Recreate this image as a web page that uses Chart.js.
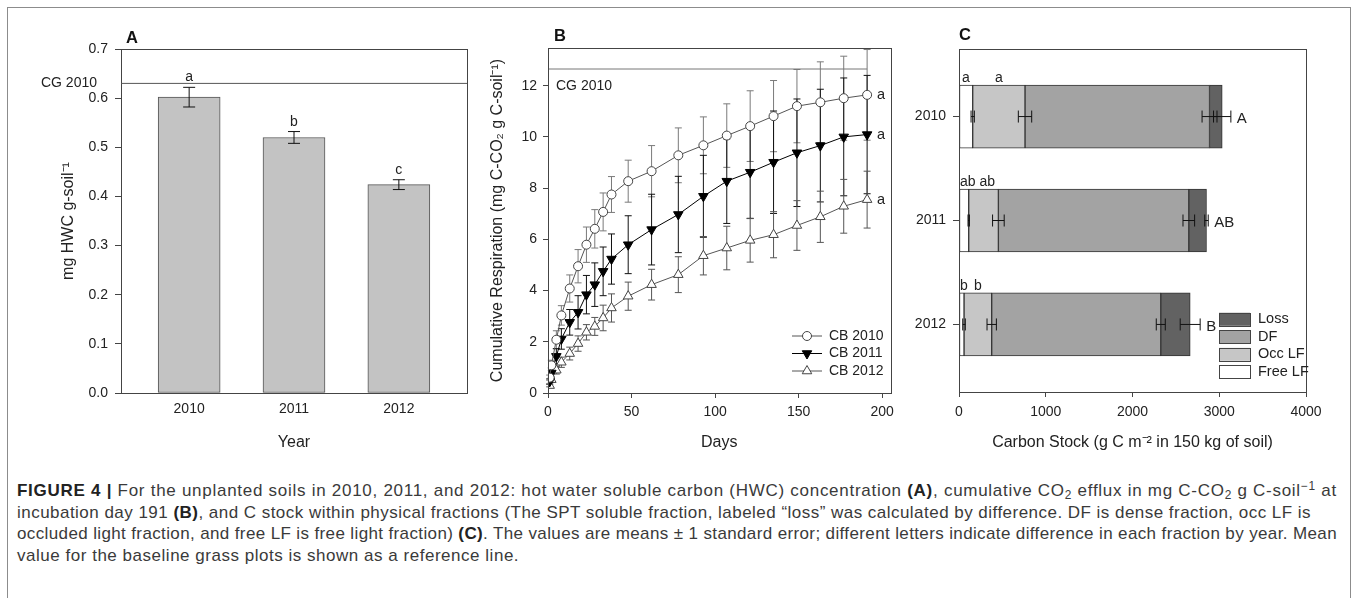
<!DOCTYPE html>
<html>
<head>
<meta charset="utf-8">
<script src="https://cdn.jsdelivr.net/npm/chart.js@4.4.0/dist/chart.umd.min.js"></script>
<style>
html, body { margin: 0; padding: 0; background: #fff; }
body { width: 1357px; height: 598px; position: relative; overflow: hidden; font-family: "Liberation Sans", Arial, sans-serif; }
#frame { position: absolute; left: 7px; top: 7px; width: 1342px; height: 610px; border: 1px solid #8c8c8c; }
canvas { position: absolute; top: 0; }
#caption { position: absolute; left: 17px; top: 480px; font-size: 17px; line-height: 21.6px; color: #3a3a3a; white-space: nowrap; }
#caption div { display: block; }
#caption span { display: inline-block; }
#caption b { color: #222; }
#caption sub { font-size: 0.7em; vertical-align: -0.25em; line-height: 0; }
#caption sup { font-size: 0.7em; vertical-align: 0.5em; line-height: 0; }
</style>
</head>
<body>
<div id="frame"></div>
<canvas id="chartA" width="480" height="470" style="left:0px"></canvas>
<canvas id="chartB" width="420" height="470" style="left:480px"></canvas>
<canvas id="chartC" width="457" height="470" style="left:900px"></canvas>
<div id="caption">
  <div><span data-w="1320"><b>FIGURE 4 |</b> For the unplanted soils in 2010, 2011, and 2012: hot water soluble carbon (HWC) concentration <b>(A)</b>, cumulative CO<sub>2</sub> efflux in mg C-CO<sub>2</sub> g C-soil<sup>−1</sup> at</span></div>
  <div><span data-w="1294">incubation day 191 <b>(B)</b>, and C stock within physical fractions (The SPT soluble fraction, labeled “loss” was calculated by difference. DF is dense fraction, occ LF is</span></div>
  <div><span data-w="1320">occluded light fraction, and free LF is free light fraction) <b>(C)</b>. The values are means ± 1 standard error; different letters indicate difference in each fraction by year. Mean</span></div>
  <div><span>value for the baseline grass plots is shown as a reference line.</span></div>
</div>
<script>
// ---- panel A: hot water soluble carbon
const years = [2010, 2011, 2012];
const hwcMean = [0.602, 0.520, 0.424];
const hwcSE = [0.020, 0.012, 0.010];
const hwcLetters = ['a', 'b', 'c'];
const hwcCG = 0.63;
const hwcTicks = [0, 0.1, 0.2, 0.3, 0.4, 0.5, 0.6, 0.7];

// ---- panel B: cumulative respiration
const days = [1, 2, 5, 8, 13, 18, 23, 28, 33, 38, 48, 62, 78, 93, 107, 121, 135, 149, 163, 177, 191];
const cb2010 = [0.60, 1.08, 2.08, 3.03, 4.08, 4.95, 5.79, 6.41, 7.07, 7.75, 8.27, 8.66, 9.28, 9.67, 10.05, 10.42, 10.81, 11.20, 11.35, 11.51, 11.64];
const cb2010SE = [0.10, 0.20, 0.35, 0.38, 0.53, 0.65, 0.69, 0.75, 0.74, 0.70, 0.82, 1.00, 1.07, 1.11, 1.24, 1.38, 1.39, 1.43, 1.58, 1.64, 1.77];
const cb2011 = [0.45, 0.78, 1.43, 2.11, 2.76, 3.15, 3.84, 4.23, 4.75, 5.23, 5.79, 6.38, 6.97, 7.68, 8.27, 8.62, 9.01, 9.38, 9.66, 10.00, 10.09];
const cb2011SE = [0.10, 0.20, 0.30, 0.40, 0.50, 0.65, 0.75, 0.85, 0.95, 0.98, 1.13, 1.38, 1.49, 1.60, 1.65, 1.80, 2.00, 2.10, 2.20, 2.30, 2.31];
const cb2012 = [0.29, 0.52, 0.89, 1.20, 1.54, 1.93, 2.37, 2.60, 2.93, 3.32, 3.78, 4.23, 4.62, 5.36, 5.66, 5.96, 6.18, 6.54, 6.88, 7.29, 7.55];
const cb2012SE = [0.05, 0.10, 0.15, 0.20, 0.25, 0.30, 0.30, 0.35, 0.50, 0.55, 0.55, 0.60, 0.70, 0.75, 0.85, 0.85, 0.90, 0.97, 1.00, 1.05, 1.11];
const respLabels = ['CB 2010', 'CB 2011', 'CB 2012'];
const respLetters = ['a', 'a', 'a'];
const respCG = 12.65;
const dayTicks = [0, 50, 100, 150, 200];
const respTicks = [0, 2, 4, 6, 8, 10, 12];

// ---- panel C: carbon stock by fraction
const fractionNames = ['Free LF', 'Occ LF', 'DF', 'Loss'];
const freeLF = [158, 112, 58];
const freeLFSE = [19, 8, 15];
const occLF = [603, 342, 319];
const occLFSE = [77, 67, 54];
const denseF = [2127, 2195, 1949];
const denseFSE = [86, 67, 52];
const lossF = [146, 204, 339];
const lossSE = [100, 20, 115];
const fracLetters = [['a', 'a'], ['ab', 'ab'], ['b', 'b']];
const totalLetters = ['A', 'AB', 'B'];
const stockTicks = [0, 1000, 2000, 3000, 4000];

const FONT = '"Liberation Sans", Arial, sans-serif';
Chart.defaults.font.family = FONT;
Chart.defaults.font.size = 14;
Chart.defaults.color = '#222';

function font(size, bold) { return (bold ? 'bold ' : '') + size + 'px ' + FONT; }

function text(ctx, str, x, y, opts) {
  opts = opts || {};
  ctx.save();
  ctx.font = opts.font || font(14);
  ctx.fillStyle = opts.color || '#222';
  ctx.textAlign = opts.align || 'center';
  ctx.textBaseline = opts.baseline || 'middle';
  ctx.translate(x, y);
  if (opts.rotate) ctx.rotate(opts.rotate);
  ctx.fillText(str, 0, 0);
  ctx.restore();
}

function line(ctx, x1, y1, x2, y2, color) {
  ctx.beginPath();
  ctx.strokeStyle = color || '#111';
  ctx.lineWidth = 1;
  ctx.moveTo(x1, y1);
  ctx.lineTo(x2, y2);
  ctx.stroke();
}

function frame(chart) {
  const a = chart.chartArea;
  const ctx = chart.ctx;
  ctx.save();
  ctx.strokeStyle = '#444';
  ctx.lineWidth = 1;
  ctx.strokeRect(Math.round(a.left) + 0.5, Math.round(a.top) + 0.5, Math.round(a.right - a.left), Math.round(a.bottom - a.top));
  ctx.restore();
}

function fixTicks(list) { return s => { s.ticks = list.map(v => ({ value: v })); }; }

// ---------------- A
new Chart(document.getElementById('chartA'), {
  type: 'bar',
  data: {
    datasets: [{
      data: years.map((y, i) => ({ x: y, y: hwcMean[i] })),
      backgroundColor: '#c3c3c3',
      borderColor: '#555',
      borderWidth: 1,
      borderSkipped: false,
      barThickness: 62
    }]
  },
  options: {
    animation: false,
    responsive: false,
    layout: { padding: { top: 49, right: 13, left: 0, bottom: 0 } },
    plugins: { legend: { display: false }, tooltip: { enabled: false } },
    scales: {
      x: {
        type: 'linear', offset: false, min: 2009.35, max: 2012.65,
        afterBuildTicks: fixTicks(years),
        afterFit: s => { s.height = 77; },
        grid: { display: false, offset: false }, border: { display: false },
        ticks: { callback: v => String(v), padding: 0, maxRotation: 0, autoSkip: false }
      },
      y: {
        min: 0, max: 0.7,
        afterBuildTicks: fixTicks(hwcTicks),
        afterFit: s => { s.width = 121; },
        grid: { drawOnChartArea: false, tickLength: 6, color: '#444' }, border: { display: false },
        ticks: { callback: v => v.toFixed(1), padding: 7 }
      }
    }
  },
  plugins: [{
    id: 'panelA',
    afterDatasetsDraw(chart) {
      const ctx = chart.ctx, a = chart.chartArea;
      const xs = chart.scales.x, ys = chart.scales.y;
      frame(chart);
      const cy = ys.getPixelForValue(hwcCG);
      line(ctx, a.left, cy, a.right, cy, '#555');
      text(ctx, 'CG 2010', a.left - 24, cy, { align: 'right' });
      years.forEach((yr, i) => {
        const x = xs.getPixelForValue(yr);
        const top = ys.getPixelForValue(hwcMean[i] + hwcSE[i]);
        const bot = ys.getPixelForValue(hwcMean[i] - hwcSE[i]);
        line(ctx, x, top, x, bot, '#111');
        line(ctx, x - 6, top, x + 6, top, '#111');
        line(ctx, x - 6, bot, x + 6, bot, '#111');
        text(ctx, hwcLetters[i], x, top - 6, { baseline: 'alphabetic' });
      });
      text(ctx, 'A', a.left + 5, 43, { font: font(16.5, true), align: 'left', baseline: 'alphabetic', color: '#111' });
      text(ctx, 'Year', (a.left + a.right) / 2, 443, { font: font(16) });
      text(ctx, 'mg HWC g-soil⁻¹', 69, (a.top + a.bottom) / 2, { font: font(16), rotate: -Math.PI / 2 });
    }
  }]
});

// ---------------- B
const respSeries = [
  { data: cb2010, se: cb2010SE, style: 'circle', rot: 0, fill: '#fff', line: '#555', bar: '#7a7a7a', r: 4.5 },
  { data: cb2011, se: cb2011SE, style: 'triangle', rot: 180, fill: '#000', line: '#000', bar: '#111', r: 5.5 },
  { data: cb2012, se: cb2012SE, style: 'triangle', rot: 0, fill: '#fff', line: '#555', bar: '#555', r: 5.5 }
];

function marker(ctx, s, x, y) {
  ctx.save();
  ctx.beginPath();
  if (s.style === 'circle') {
    ctx.arc(x, y, s.r, 0, Math.PI * 2);
  } else {
    const d = s.rot ? -1 : 1, r = s.r;
    ctx.moveTo(x, y - d * r);
    ctx.lineTo(x + r * 0.866, y + d * r / 2);
    ctx.lineTo(x - r * 0.866, y + d * r / 2);
    ctx.closePath();
  }
  ctx.fillStyle = s.fill;
  ctx.fill();
  ctx.strokeStyle = s.rot ? '#000' : '#444';
  ctx.lineWidth = 1;
  ctx.stroke();
  ctx.restore();
}

new Chart(document.getElementById('chartB'), {
  type: 'line',
  data: {
    datasets: respSeries.map((s, k) => ({
      label: respLabels[k],
      data: days.map((d, i) => ({ x: d, y: s.data[i] })),
      borderColor: s.line,
      borderWidth: 1,
      pointStyle: s.style,
      pointRotation: s.rot,
      pointRadius: s.r,
      pointBackgroundColor: s.fill,
      pointBorderColor: s.rot ? '#000' : '#444',
      pointBorderWidth: 1,
      tension: 0
    })).concat([{
      label: 'CG 2010',
      data: [{ x: 0, y: respCG }, { x: days[days.length - 1], y: respCG }],
      borderColor: '#777',
      borderWidth: 1,
      pointRadius: 0
    }])
  },
  options: {
    animation: false,
    responsive: false,
    layout: { padding: { top: 48, right: 6, left: 0, bottom: 0 } },
    plugins: { legend: { display: false }, tooltip: { enabled: false } },
    scales: {
      x: {
        type: 'linear', min: 0, max: 205,
        afterBuildTicks: fixTicks(dayTicks),
        afterFit: s => { s.height = 77; },
        grid: { drawOnChartArea: false, tickLength: 5, color: '#444' }, border: { display: false },
        ticks: { padding: 6, maxRotation: 0 }
      },
      y: {
        min: 0, max: 13.47,
        afterBuildTicks: fixTicks(respTicks),
        afterFit: s => { s.width = 68; },
        grid: { drawOnChartArea: false, tickLength: 5, color: '#444' }, border: { display: false },
        ticks: { padding: 6 }
      }
    }
  },
  plugins: [{
    id: 'panelB',
    beforeDatasetsDraw(chart) {
      const ctx = chart.ctx, xs = chart.scales.x, ys = chart.scales.y;
      respSeries.forEach(s => {
        days.forEach((d, i) => {
          const x = xs.getPixelForValue(d);
          const top = ys.getPixelForValue(s.data[i] + s.se[i]);
          const bot = ys.getPixelForValue(s.data[i] - s.se[i]);
          line(ctx, x, top, x, bot, s.bar);
          line(ctx, x - 3.5, top, x + 3.5, top, s.bar);
          line(ctx, x - 3.5, bot, x + 3.5, bot, s.bar);
        });
      });
    },
    afterDatasetsDraw(chart) {
      const ctx = chart.ctx, a = chart.chartArea, xs = chart.scales.x, ys = chart.scales.y;
      frame(chart);
      text(ctx, 'CG 2010', a.left + 8, ys.getPixelForValue(respCG) + 17, { align: 'left' });
      const lastX = xs.getPixelForValue(days[days.length - 1]);
      respSeries.forEach((s, k) => {
        text(ctx, respLetters[k], lastX + 10, ys.getPixelForValue(s.data[s.data.length - 1]), { align: 'left', font: font(14.5) });
      });
      // legend
      respSeries.forEach((s, k) => {
        const y = 336 + k * 17.5;
        line(ctx, 312, y, 342, y, s.line);
        marker(ctx, s, 327, y);
        text(ctx, respLabels[k], 349, y, { align: 'left' });
      });
      text(ctx, 'B', 74, 41, { font: font(16.5, true), align: 'left', baseline: 'alphabetic', color: '#111' });
      text(ctx, 'Days', (a.left + a.right) / 2, 443, { font: font(16) });
      text(ctx, 'Cumulative Respiration (mg C-CO₂ g C-soil⁻¹)', 18, (a.top + a.bottom) / 2, { font: font(16), rotate: -Math.PI / 2 });
    }
  }]
});

// ---------------- C
const stackVals = [freeLF, occLF, denseF, lossF];
const stackSE = [freeLFSE, occLFSE, denseFSE, lossSE];
const stackColors = ['#ffffff', '#c6c6c6', '#a3a3a3', '#626262'];

new Chart(document.getElementById('chartC'), {
  type: 'bar',
  data: {
    datasets: stackVals.map((vals, j) => ({
      label: fractionNames[j],
      data: years.map((y, i) => ({ x: vals[i], y: y })),
      backgroundColor: stackColors[j],
      borderColor: '#333',
      borderWidth: 1,
      borderSkipped: false,
      barThickness: 63
    }))
  },
  options: {
    indexAxis: 'y',
    animation: false,
    responsive: false,
    layout: { padding: { top: 49, right: 51, left: 0, bottom: 0 } },
    plugins: { legend: { display: false }, tooltip: { enabled: false } },
    scales: {
      x: {
        type: 'linear', min: 0, max: 4000, stacked: true,
        afterBuildTicks: fixTicks(stockTicks),
        afterFit: s => { s.height = 78; },
        grid: { drawOnChartArea: false, tickLength: 5, color: '#444' }, border: { display: false },
        ticks: { padding: 7, maxRotation: 0, callback: v => String(v) }
      },
      y: {
        type: 'linear', offset: false, min: 2009.35, max: 2012.65, reverse: true, stacked: true,
        afterBuildTicks: fixTicks(years),
        afterFit: s => { s.width = 59; },
        grid: { drawOnChartArea: false, offset: false, tickLength: 6, color: '#444' }, border: { display: false },
        ticks: { padding: 7, callback: v => String(v) }
      }
    }
  },
  plugins: [{
    id: 'panelC',
    afterDatasetsDraw(chart) {
      const ctx = chart.ctx, a = chart.chartArea, xs = chart.scales.x, ys = chart.scales.y;
      frame(chart);
      years.forEach((yr, i) => {
        const yc = ys.getPixelForValue(yr);
        const barTop = yc - 31.5;
        let cum = 0, end = 0, prevRight = a.left + 1;
        stackVals.forEach((vals, j) => {
          const start = cum;
          cum += vals[i];
          const x1 = xs.getPixelForValue(cum - stackSE[j][i]);
          const x2 = xs.getPixelForValue(cum + stackSE[j][i]);
          line(ctx, x1, yc, x2, yc, '#111');
          line(ctx, x1, yc - 6, x1, yc + 6, '#111');
          line(ctx, x2, yc - 6, x2, yc + 6, '#111');
          end = x2;
          if (j < 2) {
            ctx.font = font(14);
            const w = ctx.measureText(fracLetters[i][j]).width;
            let cx = (xs.getPixelForValue(start) + xs.getPixelForValue(cum)) / 2;
            cx = Math.max(cx, prevRight + w / 2 + (j ? 4 : 0));
            prevRight = cx + w / 2;
            text(ctx, fracLetters[i][j], cx, barTop - 3, { baseline: 'alphabetic' });
          }
        });
        text(ctx, totalLetters[i], end + 6, yc + 2, { align: 'left', font: font(15) });
      });
      // legend, top to bottom in reverse stack order
      [3, 2, 1, 0].forEach((j, k) => {
        const y = 319.3 + k * 17.5;
        ctx.fillStyle = stackColors[j];
        ctx.fillRect(319, y - 6.5, 31, 13);
        ctx.strokeStyle = '#444';
        ctx.lineWidth = 1;
        ctx.strokeRect(319.5, Math.round(y - 6.5) + 0.5, 31, 13);
        text(ctx, fractionNames[j], 358, y, { align: 'left', font: font(14.5) });
      });
      text(ctx, 'C', 59, 39.5, { font: font(16.5, true), align: 'left', baseline: 'alphabetic', color: '#111' });
      text(ctx, 'Carbon Stock (g C m⁻² in 150 kg of soil)', (a.left + a.right) / 2, 443, { font: font(16) });
    }
  }]
});

// spread the long caption lines to the width they take in the figure;
// the short last line gets the average spacing of the others
let spacingSum = 0, spacingCount = 0;
const spans = document.querySelectorAll('#caption span');
spans.forEach(sp => {
  if (!sp.dataset.w) return;
  const ls = (+sp.dataset.w - sp.getBoundingClientRect().width) / sp.textContent.length;
  sp.style.letterSpacing = ls + 'px';
  spacingSum += ls;
  spacingCount++;
});
spans.forEach(sp => {
  if (!sp.dataset.w) sp.style.letterSpacing = (spacingSum / spacingCount) + 'px';
});
</script>
</body>
</html>
